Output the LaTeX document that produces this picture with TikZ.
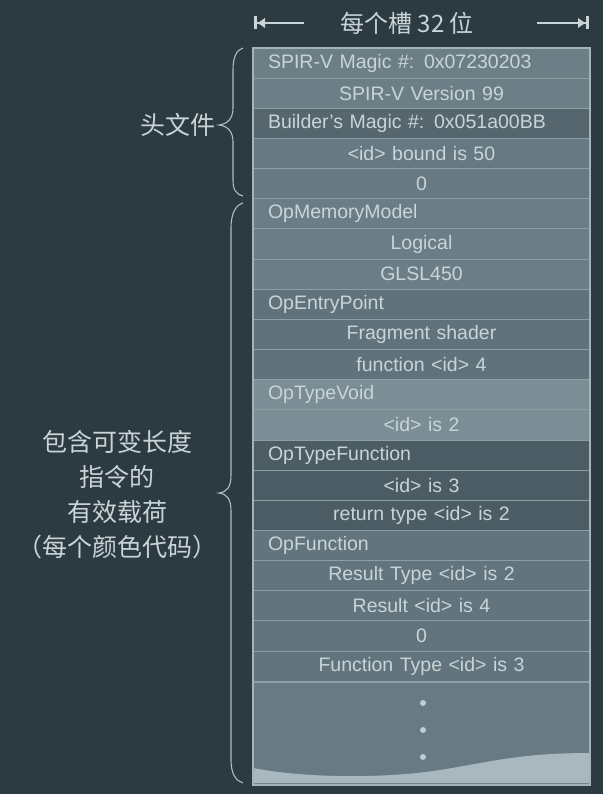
\documentclass[tikz,border=0pt]{standalone}
\usepackage{fontspec}
\setmainfont{Liberation Sans}
\newfontfamily\cjk{Noto Sans CJK SC}
\usetikzlibrary{arrows.meta}
\definecolor{bg}{HTML}{2C3A42}
\definecolor{txt}{HTML}{CAD4D7}
\definecolor{sepc}{HTML}{8D9EA5}
\definecolor{frame}{HTML}{A3B3B9}
\definecolor{cA}{HTML}{6C7F87}
\definecolor{cB}{HTML}{55666E}
\definecolor{cC}{HTML}{677A83}
\definecolor{cD}{HTML}{6B7E87}
\definecolor{cE}{HTML}{60737C}
\definecolor{cF}{HTML}{7B8E96}
\definecolor{cG}{HTML}{4B5C64}
\definecolor{cH}{HTML}{62757E}
\definecolor{cI}{HTML}{687B84}
\definecolor{wave}{HTML}{A8B8BE}
\definecolor{brc}{HTML}{AEBDC2}
\definecolor{dotc}{HTML}{C0CDD1}
\tikzset{
  rowbox/.style={rectangle, draw=sepc, line width=0.9pt, minimum width=337pt,
    minimum height=30.15pt, inner xsep=15pt, inner ysep=0pt, text width=307pt,
    text=txt, font=\fontsize{19.5}{21}\selectfont},
  lrow/.style={rowbox, align=left},
  crow/.style={rowbox, align=center},
  bracestyle/.style={draw=brc, line width=1.1pt},
  cjklabel/.style={text=txt, font=\cjk\fontsize{25}{35}\selectfont, inner sep=0pt},
  widtharrow/.style={draw=txt, line width=1.6pt}
}
\begin{document}
\begin{tikzpicture}[x=1pt,y=-1pt]
\useasboundingbox (0,0) rectangle (603,794);
\fill[bg] (0,0) rectangle (603,794);
% rows
\def\rh{30.15}
\foreach \i/\c/\s/\t in {
  1/cA/lrow/{SPIR-V Magic \#: 0x07230203},
  2/cA/crow/{SPIR-V Version 99},
  3/cB/lrow/{Builder’s Magic \#: 0x051a00BB},
  4/cC/crow/{<id> bound is 50},
  5/cC/crow/{0},
  6/cD/lrow/{OpMemoryModel},
  7/cD/crow/{Logical},
  8/cD/crow/{GLSL450},
  9/cE/lrow/{OpEntryPoint},
  10/cE/crow/{Fragment shader},
  11/cE/crow/{function <id> 4},
  12/cF/lrow/{OpTypeVoid},
  13/cF/crow/{<id> is 2},
  14/cG/lrow/{OpTypeFunction},
  15/cG/crow/{<id> is 3},
  16/cG/crow/{return type <id> is 2},
  17/cH/lrow/{OpFunction},
  18/cH/crow/{Result Type <id> is 2},
  19/cH/crow/{Result <id> is 4},
  20/cH/crow/{0},
  21/cH/crow/{Function Type <id> is 3}}
{
  \node[\s, fill=\c] (r\i) at (421.5, {48+(\i-0.5)*\rh}) {\t};
}
% remaining area
\node[rectangle, fill=cI, draw=sepc, line width=0.9pt, minimum width=337pt,
  minimum height=102pt, inner sep=0pt, anchor=north] (rest) at (r21.south) {};
\fill[wave] (253,768) .. controls (310,779) and (390,778) .. (440,770)
  .. controls (490,762) and (520,753) .. (590,753) -- (590,783) -- (253,783) -- cycle;
\foreach \k/\yy in {1/703,2/730,3/757}
  \fill[dotc] (423,\yy) circle (3);
% outer frame
\draw[frame, line width=2pt] (r1.north west) rectangle (rest.south east);
% width arrow
\node[text=txt, font=\cjk\fontsize{24}{28}\selectfont, inner sep=0pt] (title) at (407,23) {每个槽 32 位};
\coordinate (la) at (254,23);
\coordinate (lb) at (304,23);
\coordinate (ra) at (537,23);
\coordinate (rb) at (589,23);
\draw[widtharrow, {Bar[width=13pt,line width=3pt]Latex[length=8pt,width=11pt]}-] (la) -- (lb);
\draw[widtharrow, -{Latex[length=8pt,width=11pt]Bar[width=13pt,line width=3pt]}] (ra) -- (rb);
% braces
\draw[bracestyle] (243,48) .. controls (236,50) and (233,58) .. (233,70) -- (233,108)
  .. controls (233,118) and (228,124) .. (219,125)
  .. controls (228,126) and (233,132) .. (233,142) -- (233,180)
  .. controls (233,190) and (236,194) .. (243,196);
\draw[bracestyle] (243,203) .. controls (236,205) and (231,213) .. (231,228) -- (231,475)
  .. controls (231,487) and (227,492) .. (219,493)
  .. controls (227,494) and (231,499) .. (231,511) -- (231,760)
  .. controls (231,774) and (236,781) .. (243,783);
% labels
\node[cjklabel, anchor=east] (hdr) at (216,125) {头文件};
\node[cjklabel, align=center] (payload) at (117,495) {包含可变长度\\指令的\\有效载荷\\（每个颜色代码）};
\end{tikzpicture}
\end{document}
